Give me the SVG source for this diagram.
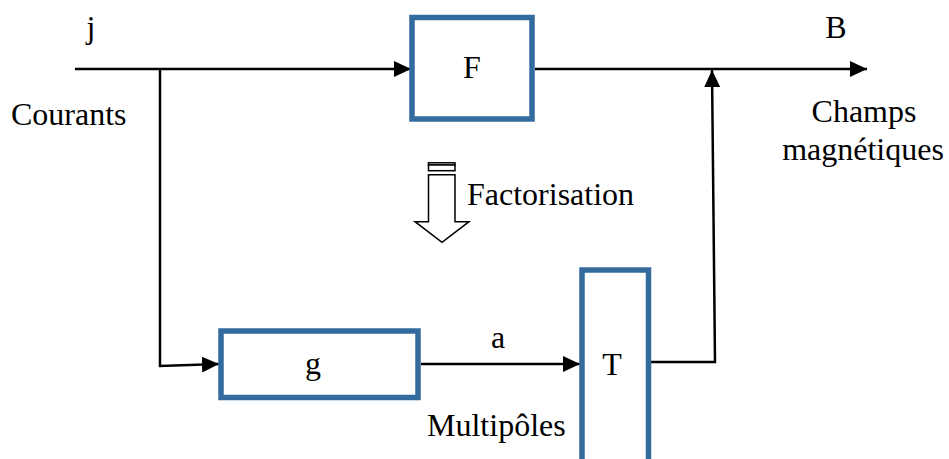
<svg xmlns="http://www.w3.org/2000/svg" width="949" height="459" viewBox="0 0 949 459">
<style>
text{font-family:"Liberation Serif","Times New Roman",serif;font-size:32px;fill:#000}
.box{fill:#fff;stroke:#336B9E;stroke-width:5.5}
.wire{fill:none;stroke:#000;stroke-width:2.5}
.fa{fill:#fff;stroke:#000;stroke-width:1.5}
</style>
<defs>
<marker id="ah" markerUnits="userSpaceOnUse" markerWidth="18" markerHeight="17" refX="17" refY="8" orient="auto">
<path d="M0,0 L17,8 L0,16 z" fill="#000"/>
</marker>
</defs>
<rect width="949" height="459" fill="#fff"/>
<g id="connectors">
<path class="wire" d="M75,69 H411" marker-end="url(#ah)"/>
<path class="wire" stroke-width="2" d="M160,69 V366 L219,364" marker-end="url(#ah)"/>
<path class="wire" d="M421,364 H580" marker-end="url(#ah)"/>
<path class="wire" d="M535,69 H867" marker-end="url(#ah)"/>
<path class="wire" d="M651,362 H715 L712,70" marker-end="url(#ah)"/>
</g>
<g id="node-F">
<rect class="box" x="412" y="17.5" width="120" height="101.5"/>
<text x="472" y="78" text-anchor="middle">F</text>
</g>
<g id="node-g">
<rect class="box" x="221" y="331" width="197" height="66.5"/>
<text x="313" y="374" text-anchor="middle">g</text>
</g>
<g id="node-T">
<rect class="box" x="582" y="270" width="66.5" height="192"/>
<text x="612" y="375" text-anchor="middle">T</text>
</g>
<g id="factorisation">
<rect class="fa" x="428.5" y="162.8" width="26.5" height="2.2"/>
<rect class="fa" x="428.5" y="165" width="26.5" height="5.7"/>
<path class="fa" d="M428.5,174.7 H455 V221.7 H469 L442,242.3 L415,221.7 H428.5 Z"/>
<text x="467" y="205">Factorisation</text>
</g>
<g id="labels">
<text x="91" y="38" text-anchor="middle">j</text>
<text x="836" y="38" text-anchor="middle">B</text>
<text x="11" y="125">Courants</text>
<text x="864" y="122" text-anchor="middle">Champs</text>
<text x="863" y="160" text-anchor="middle">magnétiques</text>
<text x="498" y="348" text-anchor="middle">a</text>
<text x="427" y="436">Multipôles</text>
</g>
</svg>
